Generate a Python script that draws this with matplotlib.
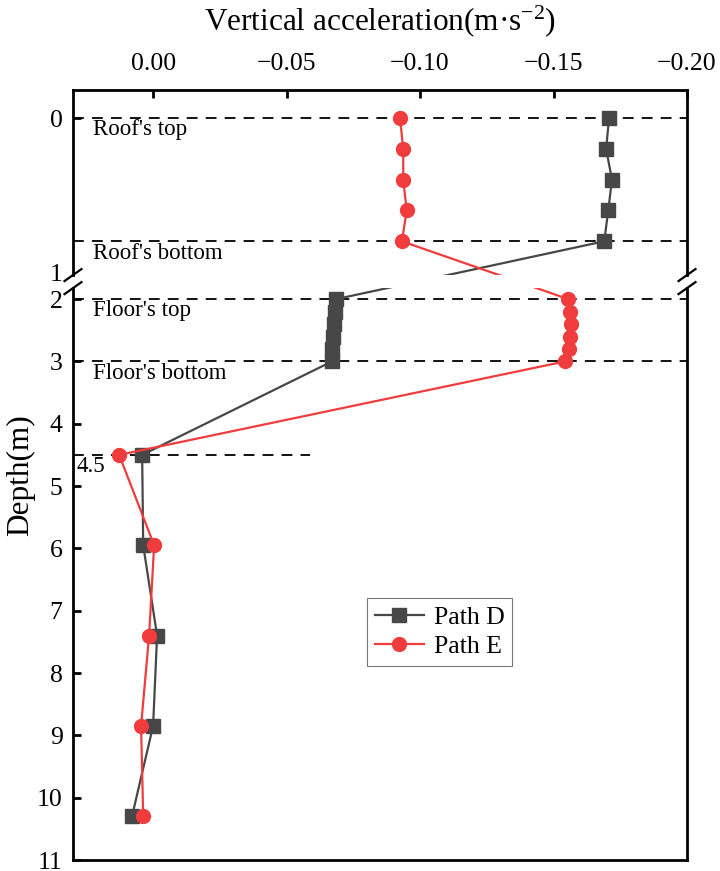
import numpy as np
import matplotlib
matplotlib.use("Agg")
import matplotlib.pyplot as plt

plt.rcParams['font.family'] = ['Liberation Serif', 'DejaVu Serif']
plt.rcParams['mathtext.fontset'] = 'custom'
plt.rcParams['mathtext.rm'] = 'Liberation Serif'
plt.rcParams['mathtext.it'] = 'Liberation Serif:italic'

# ---------------- data ----------------
depth_top = [0.0, 0.2, 0.4, 0.6, 0.8]
depth_floor = [2.0, 2.2, 2.4, 2.6, 2.8, 3.0]
depth_deep = [4.5, 5.95, 7.4, 8.85, 10.3]
depth = depth_top + depth_floor + depth_deep

path_d = [-0.1708, -0.1697, -0.1719, -0.1705, -0.1690,
          -0.0686, -0.0682, -0.0676, -0.0674, -0.0671, -0.0670,
          0.0041, 0.0037, -0.0015, 0.0000, 0.0079]
path_e = [-0.0925, -0.0937, -0.0937, -0.0950, -0.0932,
          -0.1555, -0.1562, -0.1566, -0.1562, -0.1558, -0.1543,
          0.0127, -0.0004, 0.0015, 0.0045, 0.0037]

ref_lines = [0.0, 0.8, 2.0, 3.0]
ref_labels = ["Roof's top", "Roof's bottom", "Floor's top", "Floor's bottom"]
short_line = 4.5
short_label = "4.5"

xticks = [0.0, -0.05, -0.10, -0.15, -0.20]
xtick_labels = ["0.00", "\u22120.05", "\u22120.10", "\u22120.15", "\u22120.20"]
yticks = [0, 1, 2, 3, 4, 5, 6, 7, 8, 9, 10, 11]

# ---------------- broken depth scale ----------------
K1 = 2.472   # stretch of the 0-1 segment
G = 0.4334   # 1-2 gap

def fwd(d):
    d = np.asarray(d, dtype=float)
    return np.where(d <= 1, K1 * d, np.where(d <= 2, K1 + (d - 1) * G, K1 + G + (d - 2)))

def inv(t):
    t = np.asarray(t, dtype=float)
    return np.where(t <= K1, t / K1, np.where(t <= K1 + G, 1 + (t - K1) / G, 2 + (t - K1 - G)))

fig = plt.figure(figsize=(7.2, 8.71), dpi=100)
ax = fig.add_axes([73 / 720, 1 - 860 / 871, 614 / 720, 770 / 871])
ax.set_yscale('function', functions=(fwd, inv))
ax.set_ylim(11.0, -0.182)
ax.set_xlim(0.03, -0.20)

dark = '#474747'
red = '#F03C3C'
ax.plot(path_d, depth, color=dark, lw=1.6, marker='s', ms=9.5, mec=dark, mfc=dark,
        label='Path D', zorder=3)
ax.plot(path_e, depth, color=red, lw=1.6, marker='o', ms=10, mec=red, mfc=red,
        label='Path E', zorder=3)

dash = (0, (6, 4.5))
for yv in ref_lines:
    ax.axhline(yv, color='k', lw=1.3, ls=dash, zorder=2)
ax.plot([0, 0.386], [short_line, short_line], transform=ax.get_yaxis_transform(),
        color='k', lw=1.3, ls=dash, zorder=2)

ytr = ax.get_yaxis_transform()
for yv, lab in zip(ref_lines, ref_labels):
    ax.annotate(lab, xy=(0.033, yv), xycoords=ytr, xytext=(0, -1.0),
                textcoords='offset points', va='top', ha='left', fontsize=16.5)
ax.annotate(short_label, xy=(0.006, short_line), xycoords=ytr, xytext=(0, -1.0),
            textcoords='offset points', va='top', ha='left', fontsize=16.5)

# gap band
gap_top, gap_bot = 1.11, 1.593
ax.axhspan(gap_top, gap_bot, color='white', zorder=4, lw=0)

# ticks
ax.xaxis.tick_top()
ax.xaxis.set_label_position('top')
ax.set_xticks(xticks)
ax.set_xticklabels(xtick_labels)
ax.set_yticks(yticks)
ax.set_yticklabels([str(v) for v in yticks])
ax.tick_params(axis='both', direction='in', length=6, width=2, labelsize=18.5)
ax.tick_params(axis='y', pad=7.5)
ax.tick_params(axis='x', pad=11)
ax.tick_params(right=False, bottom=False)
ax.yaxis.get_major_ticks()[1].tick1line.set_visible(False)

ax.set_xlabel('Vertical acceleration(m\u00b7s$^{\\mathrm{-2}}$)', fontsize=22.5, labelpad=16)
ax.set_ylabel('Depth(m)', fontsize=22.5, labelpad=1)

# spines with break
for s in ['top', 'bottom']:
    ax.spines[s].set_linewidth(2)
ax.spines['left'].set_visible(False)
ax.spines['right'].set_visible(False)

fig.canvas.draw()
def yax(d):
    return ax.transAxes.inverted().transform(ax.transData.transform((0, d)))[1]
ya_top = yax(gap_top)
ya_bot = yax(gap_bot)
for xs in (0, 1):
    ax.plot([xs, xs], [ya_top, 1], transform=ax.transAxes, color='k', lw=2,
            clip_on=False, solid_capstyle='projecting', zorder=6)
    ax.plot([xs, xs], [0, ya_bot], transform=ax.transAxes, color='k', lw=2,
            clip_on=False, solid_capstyle='projecting', zorder=6)
    dx = 8.5 / 614
    dy = 6.0 / 770
    for yc in (ya_top, ya_bot):
        ax.plot([xs - dx, xs + dx], [yc - dy, yc + dy], transform=ax.transAxes,
                color='k', lw=1.6, clip_on=False, zorder=6)

leg = ax.legend(loc='upper left', bbox_to_anchor=((367 - 73) / 614, 1 - (598 - 90) / 770),
                fontsize=18.5, frameon=True, fancybox=False, edgecolor='#555555',
                handlelength=1.9, borderpad=0.3, labelspacing=0.25, handletextpad=0.4,
                borderaxespad=0)
leg.get_frame().set_linewidth(0.8)

fig.savefig('out.png', dpi=100)
